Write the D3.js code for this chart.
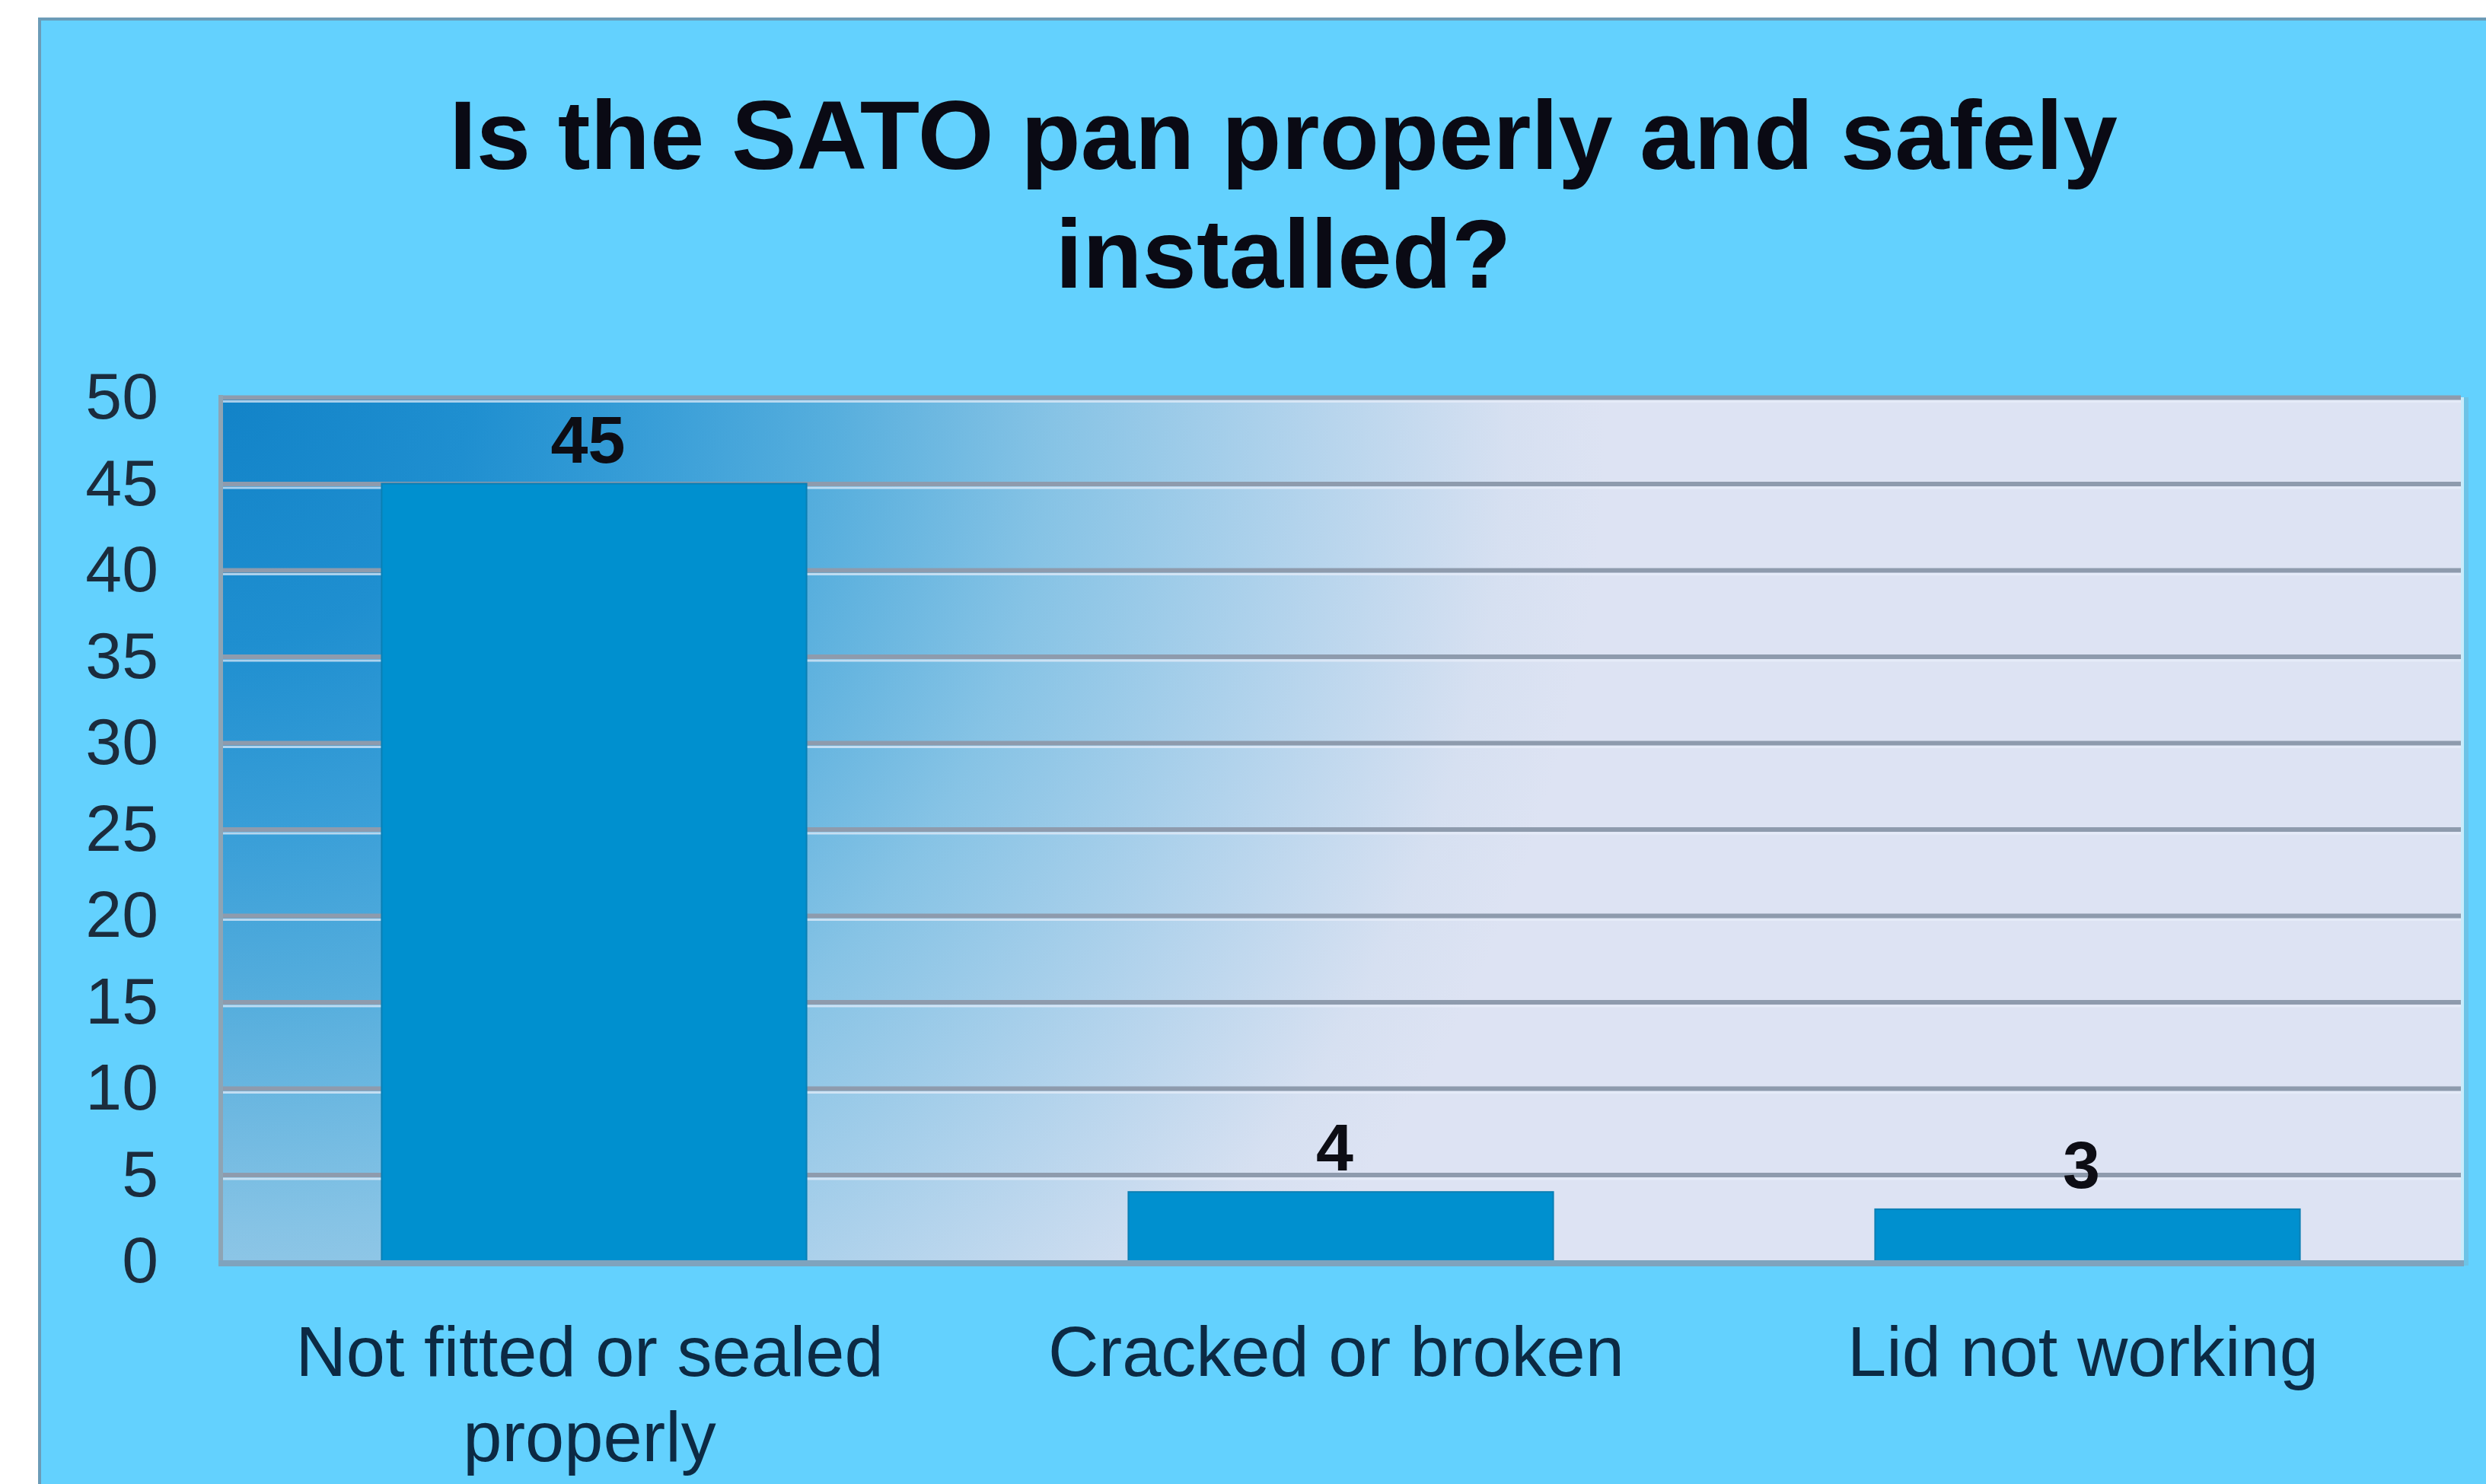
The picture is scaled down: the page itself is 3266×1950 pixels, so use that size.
<!DOCTYPE html>
<html>
<head>
<meta charset="utf-8">
<script src="https://cdn.jsdelivr.net/npm/d3@7"></script>
<style>
  html, body { margin: 0; padding: 0; background: #ffffff; }
  svg { display: block; }
</style>
</head>
<body>
<svg id="chart" width="3266" height="1950"></svg>
<script>
// ---- data ----
const titleLines = ["Is the SATO pan properly and safely", "installed?"];
const categories = ["Not fitted or sealed properly", "Cracked or broken", "Lid not working"];
const values = [45, 4, 3];
const yTicks = [0, 5, 10, 15, 20, 25, 30, 35, 40, 45, 50];
const yMax = 50;

// ---- layout ----
const W = 3266, H = 1950;
const plot = { left: 290, right: 3233, top: 522, bottom: 1657 };

const svg = d3.select("#chart");
const defs = svg.append("defs");

// plot area radial gradient from top-left
const grad = defs.append("radialGradient")
  .attr("id", "plotGrad")
  .attr("gradientUnits", "userSpaceOnUse")
  .attr("cx", plot.left).attr("cy", plot.top)
  .attr("fx", plot.left).attr("fy", plot.top)
  .attr("r", 1820);
[
  [0.00, "#1283c8"],
  [0.18, "#1f8fd0"],
  [0.32, "#3a9fd8"],
  [0.44, "#56aedd"],
  [0.60, "#86c3e5"],
  [0.78, "#b2d3ec"],
  [0.93, "#d6e0f1"],
  [1.00, "#dde3f3"]
].forEach(([o, c]) => grad.append("stop").attr("offset", o).attr("stop-color", c));

// ---- chart frame ----
svg.append("rect")
  .attr("x", 52).attr("y", 25)
  .attr("width", W + 20).attr("height", H + 20)
  .attr("fill", "#63d1fe")
  .attr("stroke", "#6b9cb8")
  .attr("stroke-width", 4);

// ---- scales ----
const x = d3.scaleBand()
  .domain(categories)
  .range([plot.left, plot.right])
  .paddingInner(0.431)
  .paddingOuter(0.2155);

const y = d3.scaleLinear()
  .domain([0, yMax])
  .range([plot.bottom, plot.top]);

// ---- plot background ----
svg.append("rect")
  .attr("x", plot.left).attr("y", plot.top)
  .attr("width", plot.right - plot.left)
  .attr("height", plot.bottom - plot.top)
  .attr("fill", "url(#plotGrad)");

// right edge light line + shadow strip
svg.append("line")
  .attr("x1", plot.right + 2).attr("x2", plot.right + 2)
  .attr("y1", plot.top).attr("y2", plot.bottom)
  .attr("stroke", "#c9ecfb").attr("stroke-width", 4);
svg.append("line")
  .attr("x1", plot.right + 7).attr("x2", plot.right + 7)
  .attr("y1", plot.top).attr("y2", plot.bottom + 6)
  .attr("stroke", "#6cc3e6").attr("stroke-width", 6);

// ---- gridlines (highlight + dark line) ----
const gridHi = svg.append("g")
  .attr("transform", `translate(${plot.left},5)`)
  .call(d3.axisLeft(y).tickValues(yTicks.filter(t => t > 0)).tickSize(-(plot.right - plot.left)).tickFormat(""));
gridHi.select(".domain").remove();
gridHi.selectAll("line").attr("stroke", "#e8eefa").attr("stroke-width", 3).attr("stroke-opacity", 0.7);

const grid = svg.append("g")
  .attr("transform", `translate(${plot.left},0)`)
  .call(d3.axisLeft(y).tickValues(yTicks.filter(t => t > 0)).tickSize(-(plot.right - plot.left)).tickFormat(""));
grid.select(".domain").remove();
grid.selectAll("line").attr("stroke", "#8e9bad").attr("stroke-width", 6);

// left plot border
svg.append("line")
  .attr("x1", plot.left).attr("x2", plot.left)
  .attr("y1", plot.top - 3).attr("y2", plot.bottom)
  .attr("stroke", "#8ea4b4").attr("stroke-width", 6);

// ---- bars ----
svg.append("g")
  .selectAll("rect")
  .data(values)
  .join("rect")
  .attr("x", (d, i) => x(categories[i]))
  .attr("y", d => y(d))
  .attr("width", x.bandwidth())
  .attr("height", d => y(0) - y(d))
  .attr("fill", "#0090cf")
  .attr("stroke", "#0a7fb4")
  .attr("stroke-width", 2);

// bottom axis line
svg.append("line")
  .attr("x1", plot.left - 3).attr("x2", plot.right + 4)
  .attr("y1", plot.bottom + 3).attr("y2", plot.bottom + 3)
  .attr("stroke", "#7fa3bd").attr("stroke-width", 8);

// ---- value labels ----
svg.append("g")
  .selectAll("text")
  .data(values)
  .join("text")
  .attr("x", (d, i) => x(categories[i]) + x.bandwidth() / 2 - 8)
  .attr("y", d => y(d) - 28)
  .attr("text-anchor", "middle")
  .attr("font-family", "'Liberation Sans', Arial, sans-serif")
  .attr("font-weight", "bold")
  .attr("font-size", 88)
  .attr("fill", "#0d0d14")
  .text(d => d);

// ---- y axis labels ----
const yAxis = svg.append("g")
  .attr("transform", `translate(208,0)`)
  .call(d3.axisLeft(y).tickValues(yTicks).tickSize(0).tickPadding(0));
yAxis.select(".domain").remove();
yAxis.selectAll("text")
  .attr("font-family", "'Liberation Sans', Arial, sans-serif")
  .attr("font-size", 86)
  .attr("fill", "#1b2c3d")
  .attr("dy", "0.32em");

// ---- category labels with wrapping ----
const labelFont = "'Liberation Sans', Arial, sans-serif";
const labelSize = 92;
const maxW = x.step() * 0.95;
const catG = svg.append("g");
categories.forEach(cat => {
  const cx = x(cat) + x.bandwidth() / 2 - 6;
  const t = catG.append("text")
    .attr("x", cx)
    .attr("y", 1808)
    .attr("text-anchor", "middle")
    .attr("font-family", labelFont)
    .attr("font-size", labelSize)
    .attr("fill", "#0c2a44");
  const words = cat.split(" ");
  let line = [];
  let tspan = t.append("tspan").attr("x", cx).attr("dy", 0);
  words.forEach(w => {
    line.push(w);
    tspan.text(line.join(" "));
    if (tspan.node().getComputedTextLength() > maxW && line.length > 1) {
      line.pop();
      tspan.text(line.join(" "));
      line = [w];
      tspan = t.append("tspan").attr("x", cx).attr("dy", 112).text(w);
    }
  });
});

// ---- title ----
const titleG = svg.append("g");
const titleTargetW = 2192;
const title1 = titleG.append("text")
  .attr("x", 1686).attr("y", 222)
  .attr("text-anchor", "middle")
  .attr("font-family", "'Liberation Sans', Arial, sans-serif")
  .attr("font-weight", "bold")
  .attr("font-size", 120)
  .attr("fill", "#0a0a14")
  .text(titleLines[0]);
const measured = title1.node().getComputedTextLength();
const titleSize = Math.min(135, 120 * titleTargetW / measured);
title1.attr("font-size", titleSize);
titleG.append("text")
  .attr("x", 1686).attr("y", 378)
  .attr("text-anchor", "middle")
  .attr("font-family", "'Liberation Sans', Arial, sans-serif")
  .attr("font-weight", "bold")
  .attr("font-size", titleSize)
  .attr("fill", "#0a0a14")
  .text(titleLines[1]);
</script>
</body>
</html>
